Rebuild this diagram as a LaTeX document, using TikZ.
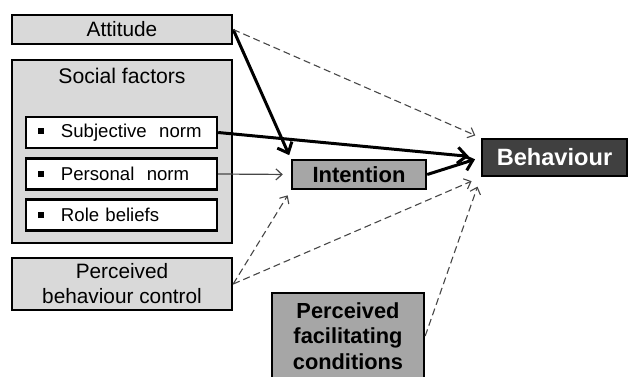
\documentclass[tikz,border=0pt]{standalone}
\usepackage{fontspec}
\setmainfont{Liberation Sans}
\usetikzlibrary{arrows.meta}
\definecolor{lightbox}{RGB}{217,217,217}
\definecolor{midbox}{RGB}{166,166,166}
\definecolor{darkbox}{RGB}{64,64,64}
\definecolor{linegray}{RGB}{70,70,70}

\begin{document}
\begin{tikzpicture}[x=0.5pt,y=-0.5pt,
    box/.style={draw=black,line width=1.2pt,fill=lightbox,inner sep=0pt,align=center,
      font=\fontsize{10.4}{12.5}\selectfont},
    subbox/.style={draw=black,line width=1.2pt,fill=white,inner xsep=6pt,inner ysep=0pt,
      text width=83.5pt,minimum height=15.5pt,align=left,font=\fontsize{9.3}{11}\selectfont},
    keybox/.style={draw=black,line width=1.2pt,fill=midbox,inner sep=0pt,align=center,
      font=\fontsize{11}{12.75}\selectfont\bfseries},
    strong/.style={-{Straight Barb[length=4.5pt,width=8pt]},line width=1.5pt,shorten >=2pt},
    weak/.style={-{Straight Barb[length=3pt,width=5.5pt]},linegray,line width=0.6pt,shorten >=2pt},
    maybe/.style={-{Straight Barb[length=3pt,width=5.5pt]},linegray,line width=0.55pt,
      dash pattern=on 3.5pt off 2pt,shorten >=3pt}]
  \useasboundingbox (0,0) rectangle (628,376);
  % left column
  \node[box,minimum width=110pt,minimum height=14.5pt](att)at(122,29.5){Attitude};
  \node[box,minimum width=110pt,minimum height=91.5pt](soc)at(122,151.5){};
  \node[font=\fontsize{10.6}{12.5}\selectfont](soct)at(122,76){Social factors};
  \foreach \y/\name/\txt in {132.5/subj/Subjective\ \ norm, 174/pers/Personal\ \ norm, 215/role/Role\ beliefs}
    \node[subbox](\name)at(121.5,\y){\rule[1.8pt]{3pt}{3pt}\hspace{8.5pt}\txt};
  \node[box,minimum width=110pt,minimum height=26pt](pbc)at(122,284){Perceived\\behaviour control};
  % middle and right
  \node[keybox,minimum width=67pt,minimum height=14.5pt](int)at(359,174.5){Intention};
  \node[keybox,fill=darkbox,text=white,minimum width=72.5pt,minimum height=18.5pt,
    font=\fontsize{11.8}{14}\selectfont\bfseries](beh)at(554.5,157.5){Behaviour};
  \node[keybox,minimum width=76pt,minimum height=43pt,
    font=\fontsize{10.9}{12.75}\selectfont\bfseries](pfc)at(348,336){Perceived\\facilitating\\conditions};
  % arrows
  \draw[strong](att.east)--(int.north west);
  \draw[maybe](att.east)--(beh.north west);
  \draw[strong,shorten >=6pt](subj.east)--(beh.west);
  \draw[weak,shorten >=4pt](pers.east)--(int.west);
  \draw[strong,shorten >=3pt](int.east)--(beh.west);
  \draw[maybe](pbc.east)--(int.south west);
  \draw[maybe,shorten >=5pt](pbc.east)--(beh.south west);
  \draw[maybe,shorten >=5pt](pfc.east)--(beh.south west);
\end{tikzpicture}
\end{document}
